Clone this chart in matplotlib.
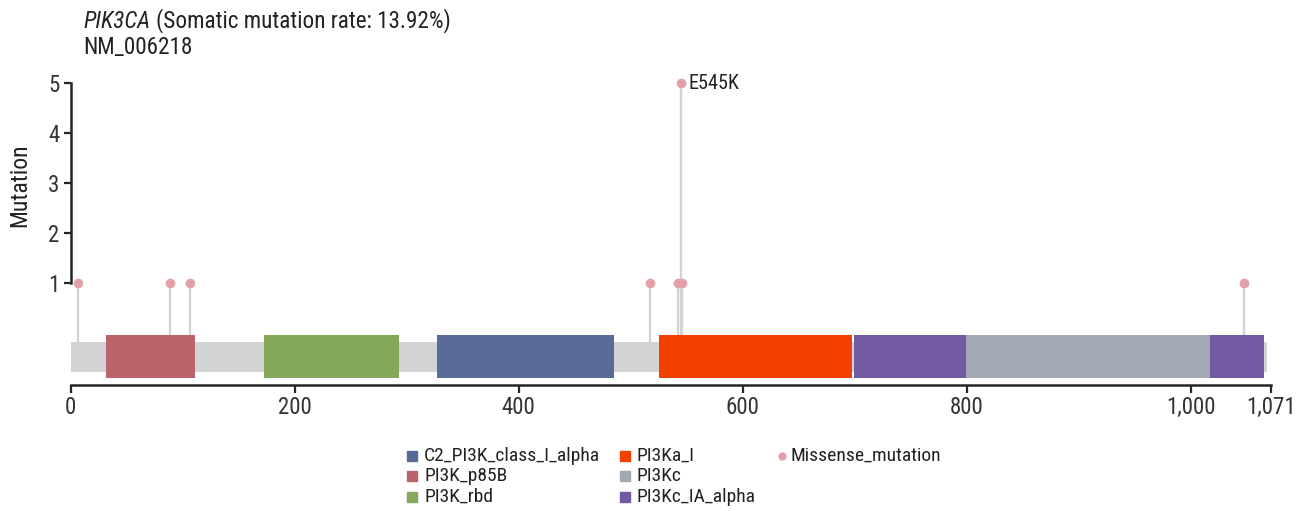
import matplotlib
matplotlib.use('Agg')
import matplotlib.pyplot as plt
import matplotlib.patches as mpatches
from matplotlib.lines import Line2D

plt.rcParams['font.family'] = ['Roboto Condensed', 'Liberation Sans Narrow', 'Roboto', 'DejaVu Sans']

# protein and mutation data
gene = 'PIK3CA'
rate_text = '(Somatic mutation rate: 13.92%)'
transcript = 'NM_006218'
protein_len = 1068
axis_max = 1071

mut_pos = [7, 89, 107, 517, 542, 545, 546, 1047]
mut_count = [1, 1, 1, 1, 1, 5, 1, 1]
mut_label = {545: 'E545K'}

domain_names = ['PI3K_p85B', 'PI3K_rbd', 'C2_PI3K_class_I_alpha', 'PI3Ka_I',
                'PI3Kc_IA_alpha', 'PI3Kc']
domain_start = [32, 173, 327, 525, 699, 799]
domain_end = [111, 293, 485, 697, 1065, 1017]
domain_color = {
    'C2_PI3K_class_I_alpha': '#586b97',
    'PI3K_p85B': '#bb636a',
    'PI3K_rbd': '#84a75c',
    'PI3Ka_I': '#f24000',
    'PI3Kc': '#a2a8b4',
    'PI3Kc_IA_alpha': '#7159a4',
}
legend_order = ['C2_PI3K_class_I_alpha', 'PI3K_p85B', 'PI3K_rbd',
                'PI3Ka_I', 'PI3Kc', 'PI3Kc_IA_alpha']

xticks = [0, 200, 400, 600, 800, 1000, 1071]
xtick_labels = ['0', '200', '400', '600', '800', '1,000', '1,071']
yticks = [1, 2, 3, 4, 5]

W, H = 1303, 511
fig = plt.figure(figsize=(W / 100, H / 100), dpi=100)

# axes placed in pixel terms: x 0 -> 70.5px, 1071 -> 1270.6px; y 0 -> 333px, 50px per unit
ybot, ytop = -1.04, 5.3
left_px, right_px = 70.5, 1270.6
top_px = 333 - ytop * 50
bot_px = 333 - ybot * 50
ax = fig.add_axes([left_px / W, 1 - bot_px / H, (right_px - left_px) / W, (bot_px - top_px) / H])
ax.set_xlim(0, axis_max)
ax.set_ylim(ybot, ytop)

ink = '#262626'
txt = '#222222'

# backbone and domains
ax.barh(-0.48, protein_len, left=0, height=0.6, color='#d2d3d5', zorder=1)
for name, s, e in zip(domain_names, domain_start, domain_end):
    ax.barh(-0.47, e - s, left=s, height=0.86, color=domain_color[name], zorder=2)

# lollipops, stems sit behind the domains
ax.vlines(mut_pos, -0.18, mut_count, color='#d3d3d3', lw=1.7, zorder=0.5)
ax.plot(mut_pos, mut_count, 'o', color='#e2a1a8', ms=7, mec='none', zorder=4)
for p, c in zip(mut_pos, mut_count):
    if p in mut_label:
        ax.annotate(mut_label[p], (p, c), xytext=(5, 0), textcoords='offset points',
                    va='center', ha='left', fontsize=14.6, color=txt)

# axes styling
for s in ['top', 'right']:
    ax.spines[s].set_visible(False)
ax.spines['left'].set_bounds(1, 5)
ax.spines['bottom'].set_bounds(0, axis_max)
for s in ['left', 'bottom']:
    ax.spines[s].set_linewidth(1.8)
    ax.spines[s].set_color(ink)
ax.set_yticks(yticks)
ax.set_xticks(xticks)
ax.set_xticklabels(xtick_labels)
ax.tick_params(axis='both', colors=ink, width=1.6, labelsize=16.5, labelcolor='#333333')
ax.tick_params(axis='y', length=5, pad=3)
ax.tick_params(axis='x', length=6, pad=2)
fig.text(20 / W, 1 - 185 / H, 'Mutation', rotation=90, fontsize=17, color=txt,
         ha='center', va='center')

# title
t1 = fig.text(83 / W, 1 - 28 / H, gene, fontsize=16.7, style='italic', color=txt, va='baseline')
ax.annotate(rate_text, xy=(1, 0), xycoords=t1, xytext=(4, 0), textcoords='offset points',
            va='bottom', fontsize=16.7, color=txt)
fig.text(83 / W, 1 - 54 / H, transcript, fontsize=16.7, color=txt, va='baseline')

# legend laid out in three columns
col_x = [412, 625, 782]
row_y = [456, 476, 497]
entries = [(n, domain_color[n], 's') for n in legend_order] + [('Missense_mutation', '#e2a1a8', 'o')]
for i, (label, color, kind) in enumerate(entries):
    col, row = divmod(i, 3)
    cx, cy = col_x[col], row_y[row]
    if kind == 's':
        fig.patches.append(mpatches.Rectangle(((cx - 5) / W, 1 - (cy + 5) / H), 10 / W, 10 / H,
                                              transform=fig.transFigure, color=color, figure=fig))
        tx = cx + 12
    else:
        fig.add_artist(Line2D([cx / W], [1 - cy / H], marker='o', ms=6, color=color, mec='none',
                              transform=fig.transFigure))
        tx = cx + 8
    fig.text(tx / W, 1 - cy / H, label, fontsize=14, color=txt, va='center', ha='left')

fig.savefig('out.png', dpi=100)
